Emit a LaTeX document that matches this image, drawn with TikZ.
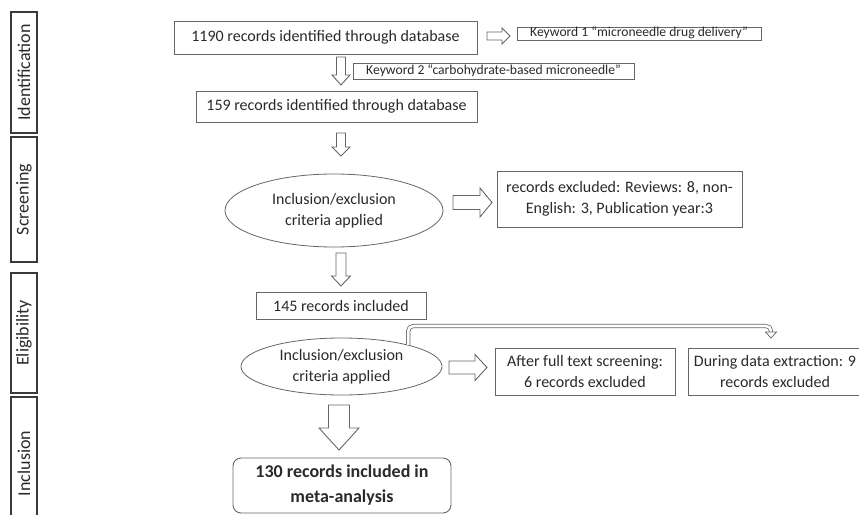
\documentclass[tikz,border=0pt]{standalone}
\usepackage{fontspec}
\setmainfont{Carlito}
\usetikzlibrary{shapes.geometric,calc}
\definecolor{ln}{HTML}{666666}
\definecolor{sd}{HTML}{3A3A3A}
\definecolor{tx}{HTML}{2A2A2A}
\newcommand\DArrow[6]{\draw[barrow] (#1-#4,#2) -- (#1+#4,#2) -- (#1+#4,#3-#6) -- (#1+#5,#3-#6) -- (#1,#3) -- (#1-#5,#3-#6) -- (#1-#4,#3-#6) -- cycle;}
\newcommand\RArrow[6]{\draw[barrow] (#2,#1-#4) -- (#3-#6,#1-#4) -- (#3-#6,#1-#5) -- (#3,#1) -- (#3-#6,#1+#5) -- (#3-#6,#1+#4) -- (#2,#1+#4) -- cycle;}
\begin{document}
\begin{tikzpicture}[x=1pt,y=-1pt,
  box/.style={draw=ln, line width=0.9pt, text=tx, align=center, inner sep=0pt, font=\fontsize{16}{21.5}\selectfont},
  kw/.style={draw=ln, line width=0.8pt, text=tx, inner xsep=0pt, inner ysep=1pt, font=\fontsize{13.6}{15}\selectfont, text height=8.5pt, text depth=2.5pt},
  oval/.style={ellipse, draw=ln, line width=0.8pt, text=tx, align=center, inner sep=0pt, font=\fontsize{16}{21.5}\selectfont},
  side/.style={draw=sd, line width=1.3pt, rotate=90, text=tx, inner sep=0pt, minimum height=26pt, font=\fontsize{18}{20}\selectfont},
  barrow/.style={draw=ln, line width=0.9pt, fill=white, line join=miter},
  bent/.style={draw=ln, line width=0.75pt, double distance=2.6pt, rounded corners=5pt}
]
\useasboundingbox (0,0) rectangle (859,514);
\clip (0,0) rectangle (859,514);
\fill[white] (0,0) rectangle (859,514);

% phase labels
\node[side, minimum width=121pt] (sid) at (24,72.5) {Identification};
\node[side, minimum width=125pt] (ssc) at (24,199.5) {Screening};
\node[side, minimum width=120pt] (sel) at (24,333) {Eligibility};
\node[side, minimum width=133pt] (sin) at (24,463.5) {Inclusion};

% main boxes
\node[box, minimum width=303pt, minimum height=33pt] (b1) at (325.5,37.5) {1190 records identified through database};
\node[kw, minimum width=244pt, minimum height=13pt] (k1) at (639,33.5) {Keyword 1 “microneedle drug delivery”};
\node[kw, minimum width=281pt, minimum height=16pt] (k2) at (493.5,71) {Keyword 2 “carbohydrate-based microneedle”};
\node[box, minimum width=281pt, minimum height=31pt] (b2) at (336.5,106.5) {159 records identified through database};
\node[oval, minimum width=218pt, minimum height=73pt] (e1) at (334,210.5) {Inclusion/exclusion\\criteria applied};
\node[box, minimum width=245pt, minimum height=56pt] (x1) at (619.5,199) {records excluded: Reviews: 8, non-\\English: 3, Publication year:3};
\node[box, minimum width=170pt, minimum height=27pt] (b3) at (341,305.5) {145 records included};
\node[oval, minimum width=201pt, minimum height=57pt] (e2) at (341.5,366.5) {Inclusion/exclusion\\criteria applied};
\node[box, minimum width=180pt, minimum height=47pt] (x2) at (585,371.5) {After full text screening:\\6 records excluded};
\node[box, minimum width=174pt, minimum height=47pt] (x3) at (775,371.5) {During data extraction: 9\\records excluded};
\node[box, rounded corners=8pt, minimum width=218pt, minimum height=55pt, font=\fontsize{18}{25}\selectfont\bfseries] (fin) at (342,485.5) {130 records included in\\meta-analysis};

% block arrows
\RArrow{36}{487}{510}{4}{8}{8}
\DArrow{341}{57}{85}{4.5}{9}{10}
\DArrow{341}{133}{156}{4.5}{9}{9}
\RArrow{202.5}{453}{492}{7}{14.5}{12}
\DArrow{341}{253}{286}{5}{9.5}{10}
\RArrow{367.5}{449}{487}{6.5}{13}{12}
\DArrow{339}{405}{450}{10.5}{20}{22}

% bent arrow to data extraction
\coordinate (bR) at (771,326);
\coordinate (bE) at (771,333);
\draw[bent] (e2.18) |- (bR) -- (bE);
\draw[barrow, line width=0.7pt] (765.5,332) -- (776.5,332) -- (771,338) -- cycle;
\end{tikzpicture}
\end{document}
